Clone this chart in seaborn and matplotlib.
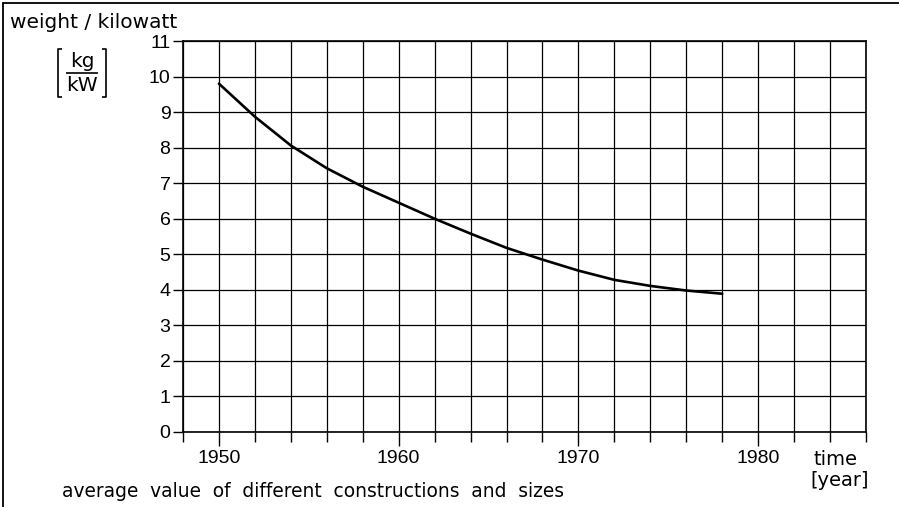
import matplotlib
matplotlib.use("Agg")
import matplotlib.pyplot as plt
from matplotlib.lines import Line2D
import seaborn as sns
import pandas as pd

# ---- data ----
years = [1950, 1952, 1954, 1956, 1958, 1960, 1962, 1964, 1966, 1968, 1970, 1972, 1974, 1976, 1978]
weight_per_kw = [9.8, 8.87, 8.06, 7.42, 6.9, 6.45, 6.0, 5.58, 5.18, 4.85, 4.54, 4.28, 4.11, 3.98, 3.89]
x_tick_labels = [1950, 1960, 1970, 1980]
y_tick_labels = list(range(0, 12))
title_text = "weight / kilowatt"
unit_num = "kg"
unit_den = "kW"
xlabel_1 = "time"
xlabel_2 = "[year]"
footer_text = "average  value  of  different  constructions  and  sizes"

df = pd.DataFrame({"year": years, "weight": weight_per_kw})

sns.set_theme(style="white")
plt.rcParams["font.family"] = ["Liberation Sans", "DejaVu Sans"]
plt.rcParams["text.color"] = "black"
plt.rcParams["xtick.color"] = "black"
plt.rcParams["ytick.color"] = "black"
plt.rcParams["xtick.labelcolor"] = "black"
plt.rcParams["ytick.labelcolor"] = "black"

W, H = 899, 507
fig = plt.figure(figsize=(W / 100, H / 100), dpi=100)
fig.patch.set_facecolor("white")

L, R, T, B = 183, 866, 41, 432
ax = fig.add_axes([L / W, 1 - B / H, (R - L) / W, (B - T) / H])

sns.lineplot(data=df, x="year", y="weight", ax=ax, color="black", linewidth=1.9)

ax.set_xlim(1948, 1986)
ax.set_ylim(0, 11)

# grid
for xv in range(1948, 1987, 2):
    ax.axvline(xv, color="black", linewidth=0.9, zorder=0)
for yv in y_tick_labels:
    ax.axhline(yv, color="black", linewidth=0.9, zorder=0)

for s in ax.spines.values():
    s.set_color("black")
    s.set_linewidth(1.2)

ax.set_xticks(x_tick_labels)
ax.set_xticklabels([str(v) for v in x_tick_labels], fontsize=14, color="black")
ax.set_xticks(list(range(1948, 1987, 2)), minor=True)
ax.set_yticks(y_tick_labels)
ax.set_yticklabels([str(v) for v in y_tick_labels], fontsize=14, color="black")
ax.tick_params(axis="x", which="major", direction="out", length=10, width=1, color="black", pad=3, bottom=True)
ax.tick_params(axis="x", which="minor", direction="out", length=7, width=1, color="black", bottom=True)
ax.tick_params(axis="y", which="major", direction="out", length=7, width=1, color="black", pad=2, left=True)
ax.set_xlabel("")
ax.set_ylabel("")

def fx(px):
    return px / W

def fy(py):
    return 1 - py / H

txt_font = ["DejaVu Sans"]
fig.text(fx(10), fy(28), title_text, fontsize=14.5, ha="left", va="baseline", family=txt_font, color="black")

# unit [kg / kW] drawn as fraction with brackets
fig.text(fx(82), fy(67), unit_num, fontsize=14.5, ha="center", va="baseline", family=txt_font, color="black")
fig.text(fx(82), fy(91), unit_den, fontsize=14.5, ha="center", va="baseline", family=txt_font, color="black")
lw_u = 1.2
def fline(xs, ys):
    fig.add_artist(Line2D([fx(v) for v in xs], [fy(v) for v in ys], transform=fig.transFigure,
                          color="black", linewidth=lw_u, solid_capstyle="butt"))
fline([66, 98], [73, 73])
fline([62, 58, 58, 62], [49, 49, 97, 97])
fline([102, 106, 106, 102], [49, 49, 97, 97])

fig.text(fx(836), fy(465), xlabel_1, fontsize=14, ha="center", va="baseline", family=txt_font, color="black")
fig.text(fx(840), fy(486), xlabel_2, fontsize=14, ha="center", va="baseline", family=txt_font, color="black")
fig.text(fx(62), fy(497), footer_text, fontsize=13.4, ha="left", va="baseline", family=txt_font, color="black")

# outer frame (left and top edges)
fig.add_artist(Line2D([fx(3), fx(3)], [fy(3), 0], transform=fig.transFigure, color="black", linewidth=1.3))
fig.add_artist(Line2D([fx(3), 1], [fy(3), fy(3)], transform=fig.transFigure, color="black", linewidth=1.3))

fig.savefig("out.png", dpi=100)
